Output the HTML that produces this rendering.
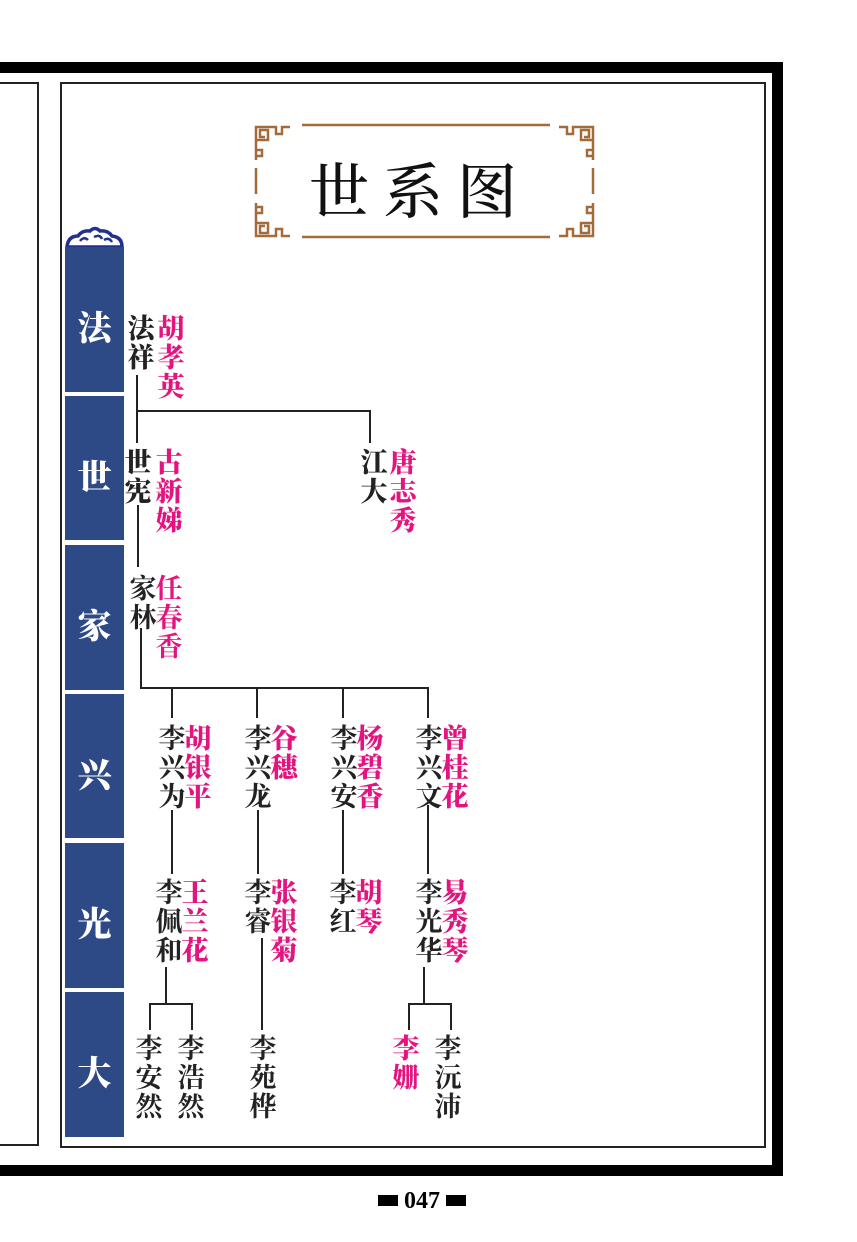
<!DOCTYPE html>
<html><head><meta charset="utf-8"><style>
body{margin:0;background:#fff;}
#p{position:relative;width:857px;height:1242px;overflow:hidden;background:#fff;font-family:"Liberation Serif","Noto Serif CJK SC",serif;}
.a{position:absolute;}
.c{position:absolute;font-family:"Noto Serif CJK SC","Noto Sans CJK SC",serif;font-weight:900;font-size:27px;line-height:29px;width:28px;text-align:center;color:#222;}
.m{color:#e2147f;}
.n{font-weight:700;}
.blk{position:absolute;left:65px;width:59px;background:#2e4a86;color:#fff;font-family:"Noto Serif CJK SC",serif;font-weight:900;font-size:34px;display:flex;align-items:center;justify-content:center;box-sizing:border-box;padding-top:12px;}
.l{position:absolute;background:#222;}
</style></head><body><div id="p">
<div class="a" style="left:0;top:62px;width:783px;height:11px;background:#000"></div>
<div class="a" style="left:772px;top:62px;width:11px;height:1114px;background:#000"></div>
<div class="a" style="left:0;top:1165px;width:783px;height:11px;background:#000"></div>
<div class="a" style="left:0;top:82px;width:39px;height:1064px;border:2px solid #222;border-left:none;box-sizing:border-box"></div>
<div class="a" style="left:60px;top:82px;width:706px;height:1066px;border:2px solid #222;box-sizing:border-box"></div>

<svg class="a" style="left:0;top:0" width="857" height="260">
<g stroke="#a36b3b" stroke-width="2.5" fill="none">
<line x1="302" y1="125" x2="550" y2="125"/>
<line x1="302" y1="237" x2="550" y2="237"/>
<line x1="256" y1="168" x2="256" y2="194"/>
<line x1="593" y1="168" x2="593" y2="194"/>
<path id="cn" d="M256,160 L256,127 L270,127 M256,127 L256,140 L268,140 L268,130 L260,130 L260,137 L265,137 M270,127 L276,127 L276,134 L282,134 L282,127 L290,127 M256,140 L256,150 L262,150 L262,156 L256,156"/>
<use href="#cn" transform="translate(849,0) scale(-1,1)"/>
<use href="#cn" transform="translate(0,363) scale(1,-1)"/>
<use href="#cn" transform="translate(849,363) scale(-1,-1)"/>
</g>
<path d="M67,247 Q68,236 78,236 Q82,230 90,231 Q95,226 100,231 Q108,230 112,236 Q122,237 122,247 Z" fill="none" stroke="#22318f" stroke-width="3.5"/>
<path d="M80,241 q4,-5 8,-1 M94,237 q6,-3 8,2 M104,240 q5,-3 8,2" stroke="#22318f" stroke-width="2.5" fill="none"/>
</svg>
<div class="a" style="left:305px;top:143px;width:230px;text-align:center;font-family:'Noto Serif CJK SC',serif;font-weight:500;font-size:60px;letter-spacing:14px;line-height:90px;color:#111">世系图</div>

<div class="blk" style="top:247px;height:145px">法</div>
<div class="blk" style="top:396px;height:144px">世</div>
<div class="blk" style="top:545px;height:145px">家</div>
<div class="blk" style="top:694px;height:144px">兴</div>
<div class="blk" style="top:843px;height:145px">光</div>
<div class="blk" style="top:992px;height:145px">大</div>

<div class="l" style="left:136px;top:375px;width:2px;height:68px"></div>
<div class="l" style="left:136px;top:410px;width:235px;height:2px"></div>
<div class="l" style="left:369px;top:410px;width:2px;height:33px"></div>
<div class="l" style="left:137px;top:505px;width:2px;height:62px"></div>
<div class="l" style="left:140px;top:628px;width:2px;height:60px"></div>
<div class="l" style="left:140px;top:687px;width:289px;height:2px"></div>
<div class="l" style="left:171px;top:687px;width:2px;height:31px"></div>
<div class="l" style="left:256px;top:687px;width:2px;height:31px"></div>
<div class="l" style="left:342px;top:687px;width:2px;height:31px"></div>
<div class="l" style="left:427px;top:687px;width:2px;height:31px"></div>
<div class="l" style="left:171px;top:810px;width:2px;height:64px"></div>
<div class="l" style="left:257px;top:810px;width:2px;height:64px"></div>
<div class="l" style="left:342px;top:810px;width:2px;height:64px"></div>
<div class="l" style="left:427px;top:805px;width:2px;height:69px"></div>
<div class="l" style="left:165px;top:967px;width:2px;height:37px"></div>
<div class="l" style="left:149px;top:1003px;width:44px;height:2px"></div>
<div class="l" style="left:149px;top:1003px;width:2px;height:27px"></div>
<div class="l" style="left:191px;top:1003px;width:2px;height:27px"></div>
<div class="l" style="left:261px;top:938px;width:2px;height:92px"></div>
<div class="l" style="left:423px;top:967px;width:2px;height:37px"></div>
<div class="l" style="left:408px;top:1003px;width:44px;height:2px"></div>
<div class="l" style="left:408px;top:1003px;width:2px;height:27px"></div>
<div class="l" style="left:450px;top:1003px;width:2px;height:27px"></div>

<div class="c" style="left:127px;top:312px">法<br>祥</div>
<div class="c m" style="left:157px;top:312px">胡<br>孝<br>英</div>
<div class="c" style="left:124px;top:446px">世<br>宪</div>
<div class="c m" style="left:155px;top:446px">古<br>新<br>娣</div>
<div class="c n" style="left:129px;top:572px">家<br>林</div>
<div class="c m n" style="left:155px;top:572px">任<br>春<br>香</div>
<div class="c" style="left:360px;top:446px">江<br>大</div>
<div class="c m" style="left:389px;top:446px">唐<br>志<br>秀</div>

<div class="c n" style="left:158px;top:722px">李<br>兴<br>为</div>
<div class="c m" style="left:184px;top:722px">胡<br>银<br>平</div>
<div class="c n" style="left:244px;top:722px">李<br>兴<br>龙</div>
<div class="c m" style="left:270px;top:722px">谷<br>穗</div>
<div class="c n" style="left:330px;top:722px">李<br>兴<br>安</div>
<div class="c m" style="left:356px;top:722px">杨<br>碧<br>香</div>
<div class="c n" style="left:415px;top:722px">李<br>兴<br>文</div>
<div class="c m" style="left:441px;top:722px">曾<br>桂<br>花</div>

<div class="c n" style="left:155px;top:876px">李<br>佩<br>和</div>
<div class="c m" style="left:181px;top:876px">王<br>兰<br>花</div>
<div class="c n" style="left:244px;top:876px">李<br>睿</div>
<div class="c m" style="left:270px;top:876px">张<br>银<br>菊</div>
<div class="c n" style="left:329px;top:876px">李<br>红</div>
<div class="c m" style="left:355px;top:876px">胡<br>琴</div>
<div class="c n" style="left:415px;top:876px">李<br>光<br>华</div>
<div class="c m" style="left:441px;top:876px">易<br>秀<br>琴</div>

<div class="c n" style="left:135px;top:1032px">李<br>安<br>然</div>
<div class="c n" style="left:177px;top:1032px">李<br>浩<br>然</div>
<div class="c n" style="left:249px;top:1032px">李<br>苑<br>桦</div>
<div class="c m" style="left:392px;top:1032px">李<br>姗</div>
<div class="c n" style="left:434px;top:1032px">李<br>沅<br>沛</div>

<div class="a" style="left:378px;top:1195px;width:20px;height:11px;background:#000"></div>
<div class="a" style="left:446px;top:1195px;width:20px;height:11px;background:#000"></div>
<div class="a" style="left:398px;top:1186px;width:48px;text-align:center;font-family:'Liberation Serif',serif;font-weight:bold;font-size:24px;line-height:30px;color:#000">047</div>
</div></body></html>
